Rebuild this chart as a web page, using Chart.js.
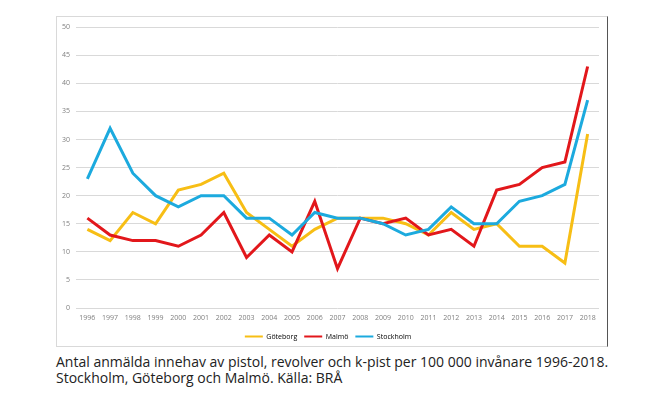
<!DOCTYPE html>
<html>
<head>
<meta charset="utf-8">
<script src="https://cdn.jsdelivr.net/npm/chart.js@4"></script>
<style>
  body { margin: 0; background: #fff; }
  #box {
    position: absolute; left: 56px; top: 16px;
    width: 550px; height: 329px;
    border: 1px solid #d9d9d9; border-right-color: #555;
  }
  #caption {
    position: absolute; left: 56px; top: 354px; width: 600px;
    font-family: "Open Sans", sans-serif; font-size: 14px; line-height: 16px;
    color: #222;
  }
</style>
</head>
<body>
<div id="box"><canvas id="chart"></canvas></div>
<div id="caption">Antal anmälda innehav av pistol, revolver och k-pist per 100 000 invånare 1996-2018.<br>Stockholm, Göteborg och Malmö. Källa: BRÅ</div>
<script>
const years = ['1996','1997','1998','1999','2000','2001','2002','2003','2004','2005','2006','2007',
  '2008','2009','2010','2011','2012','2013','2014','2015','2016','2017','2018'];
const goteborg = [14, 12, 17, 15, 21, 22, 24, 17, 14, 11, 14, 16, 16, 16, 15, 13, 17, 14, 15, 11, 11, 8, 31];
const malmo = [16, 13, 12, 12, 11, 13, 17, 9, 13, 10, 19, 7, 16, 15, 16, 13, 14, 11, 21, 22, 25, 26, 43];
const stockholm = [23, 32, 24, 20, 18, 20, 20, 16, 16, 13, 17, 16, 16, 15, 13, 14, 18, 15, 15, 19, 20, 22, 37];

const tickFont = { family: 'Open Sans', size: 7 };

new Chart(document.getElementById('chart'), {
  type: 'line',
  data: {
    labels: years,
    datasets: [
      { label: 'Göteborg', data: goteborg, borderColor: '#f7be15', order: 2 },
      { label: 'Malmö', data: malmo, borderColor: '#e2171b', order: 1 },
      { label: 'Stockholm', data: stockholm, borderColor: '#1caade', order: 0 },
    ],
  },
  options: {
    responsive: true,
    maintainAspectRatio: false,
    animation: false,
    elements: {
      line: { borderWidth: 3, tension: 0, fill: false },
      point: { radius: 0 },
    },
    layout: { padding: { top: 9, right: 8, left: 0, bottom: 1 } },
    plugins: {
      tooltip: { enabled: false },
      legend: {
        position: 'bottom',
        maxHeight: 19,
        labels: {
          boxWidth: 18,
          boxHeight: 2,
          padding: 7,
          color: '#7f7f7f',
          font: tickFont,
          sort: (a, b) => a.datasetIndex - b.datasetIndex,
          generateLabels: (chart) => chart.data.datasets.map((ds, i) => ({
            text: ds.label,
            fillStyle: ds.borderColor,
            strokeStyle: ds.borderColor,
            lineWidth: 0,
            datasetIndex: i,
          })),
        },
      },
    },
    scales: {
      x: {
        offset: true,
        grid: { display: false, drawTicks: false },
        border: { display: false },
        ticks: { color: '#7f7f7f', font: tickFont, maxRotation: 0, autoSkip: false, padding: 6 },
        afterFit: (s) => { s.height = 18; },
      },
      y: {
        min: 0,
        max: 50,
        ticks: { stepSize: 5, color: '#7f7f7f', font: tickFont, padding: 6 },
        grid: { color: '#d9d9d9', lineWidth: 1, drawTicks: false },
        border: { display: false },
        afterFit: (s) => { s.width = 19; },
      },
    },
  },
});
</script>
</body>
</html>
